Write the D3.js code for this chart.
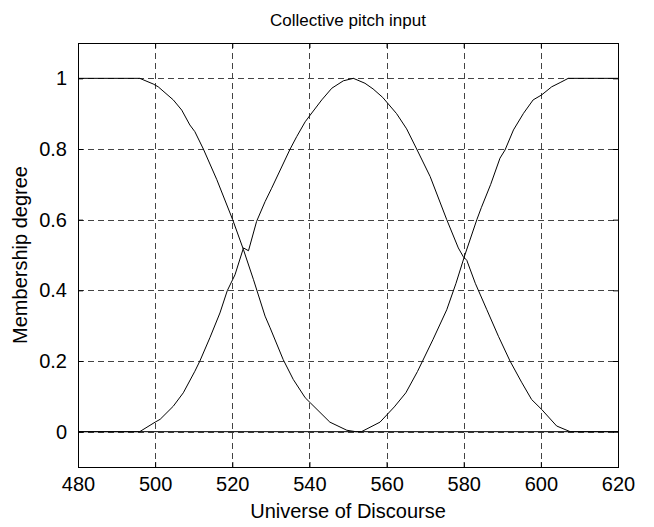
<!DOCTYPE html>
<html>
<head>
<meta charset="utf-8">
<script src="https://cdn.jsdelivr.net/npm/d3@7"></script>
<style>
	body { margin: 0; background: #fff; }
	svg { display: block; font-family: Arial, "Liberation Sans", sans-serif; }
	.grid line { stroke: #444; stroke-dasharray: 6,4; }
</style>
</head>
<body>
<div id="chart"></div>
<script>
// membership curves, [x, degree]
var lowCurve = [[480, 1], [496, 1], [499.5, 0.984], [500.8, 0.976], [504.7, 0.939], [506.9, 0.91],
	[509, 0.868], [510.3, 0.849], [512.5, 0.8], [516, 0.713], [520.1, 0.6], [522.9, 0.515],
	[525.5, 0.43], [528.5, 0.327], [529.8, 0.294], [533.2, 0.204], [535.8, 0.148], [538.9, 0.096],
	[540.2, 0.082], [545.3, 0.027], [549.7, 0.004], [552, 0], [620, 0]];
var midCurve = [[480, 0], [496, 0], [500, 0.027], [501.3, 0.035], [504.7, 0.072], [507.3, 0.11],
	[510.3, 0.171], [511.6, 0.2], [514.2, 0.266], [516.8, 0.336], [518.7, 0.399], [520.7, 0.444],
	[522.9, 0.52], [524.2, 0.512], [526.3, 0.595], [528.5, 0.651], [530.2, 0.689], [535, 0.8],
	[536.7, 0.835], [538.9, 0.877], [540.2, 0.896], [543.2, 0.939], [545.8, 0.972], [548.8, 0.993],
	[551.4, 1], [554.4, 0.986], [556.5, 0.97], [559, 0.946], [562.6, 0.9], [565.2, 0.857],
	[567.8, 0.8], [571.3, 0.722], [575.6, 0.6], [578.6, 0.52], [579.9, 0.495], [580.8, 0.485],
	[583, 0.42], [586, 0.345], [589, 0.27], [592, 0.2], [595, 0.14], [597.6, 0.091],
	[600.2, 0.063], [604.1, 0.016], [607.6, 0], [620, 0]];
var highCurve = [[480, 0], [553.5, 0], [558.3, 0.027], [562, 0.07], [565, 0.11], [568, 0.17],
	[572, 0.26], [575.6, 0.345], [578, 0.42], [580.3, 0.5], [583.4, 0.6], [584.6, 0.635],
	[587, 0.7], [589.4, 0.774], [590.7, 0.797], [592.9, 0.854], [595.5, 0.901], [598, 0.939],
	[600.2, 0.953], [602.8, 0.976], [605, 0.988], [607.1, 1], [620, 1]];

var xTicks = [480, 500, 520, 540, 560, 580, 600, 620];
var yTicks = [0, 0.2, 0.4, 0.6, 0.8, 1];
var xDomain = [480, 620], yDomain = [-0.1, 1.1];
var titleText = 'Collective pitch input';
var xLabel = 'Universe of Discourse';
var yLabel = 'Membership degree';

var width = 654, height = 527;
var margin = { top: 43, right: 36, bottom: 60, left: 78 };
var w = width - margin.left - margin.right,
	h = height - margin.top - margin.bottom;

var svg = d3.select('#chart').append('svg')
	.attr('width', width)
	.attr('height', height);

var x = d3.scaleLinear().domain(xDomain).range([0, w]);
var y = d3.scaleLinear().domain(yDomain).range([h, 0]);

var g = svg.append('g')
	.attr('transform', 'translate(' + margin.left + ',' + margin.top + ')');

// grid
var grid = g.append('g').attr('class', 'grid');
grid.selectAll('.vx')
	.data(xTicks.slice(1, -1))
	.enter().append('line')
	.attr('x1', function(d) { return Math.round(x(d)) + 0.5; })
	.attr('x2', function(d) { return Math.round(x(d)) + 0.5; })
	.attr('y1', 0).attr('y2', h);
grid.selectAll('.hy')
	.data(yTicks)
	.enter().append('line')
	.attr('y1', function(d) { return Math.round(y(d)) + 0.5; })
	.attr('y2', function(d) { return Math.round(y(d)) + 0.5; })
	.attr('x1', 0).attr('x2', w);

// curves
var line = d3.line()
	.x(function(d) { return x(d[0]); })
	.y(function(d) { return y(d[1]); });
[lowCurve, midCurve, highCurve].forEach(function(c) {
	g.append('path')
		.datum(c)
		.attr('d', line)
		.attr('fill', 'none')
		.attr('stroke', '#000')
		.attr('stroke-width', 1);
});

// axes, matlab style ticks inside on all four sides
var fontSize = 20;
function styleAxis(sel) {
	sel.select('.domain').remove();
	sel.selectAll('line').attr('stroke', '#000');
	sel.selectAll('text').attr('font-size', fontSize).attr('fill', '#000')
		.attr('font-family', 'Arial, "Liberation Sans", sans-serif');
}
var fmt = function(d) { return d3.format('~g')(d); };
g.append('g')
	.attr('transform', 'translate(0,' + h + ')')
	.call(d3.axisBottom(x).tickValues(xTicks).tickFormat(fmt).tickSizeInner(-5).tickSizeOuter(0).tickPadding(10))
	.call(styleAxis);
g.append('g')
	.call(d3.axisTop(x).tickValues(xTicks).tickFormat('').tickSizeInner(-5).tickSizeOuter(0))
	.call(styleAxis);
g.append('g')
	.call(d3.axisLeft(y).tickValues(yTicks).tickFormat(fmt).tickSizeInner(-5).tickSizeOuter(0).tickPadding(11))
	.call(styleAxis);
g.append('g')
	.attr('transform', 'translate(' + w + ',0)')
	.call(d3.axisRight(y).tickValues(yTicks).tickFormat('').tickSizeInner(-5).tickSizeOuter(0))
	.call(styleAxis);

g.append('rect')
	.attr('x', 0.5).attr('y', 0.5)
	.attr('width', w).attr('height', h)
	.attr('fill', 'none')
	.attr('stroke', '#000');

// labels
svg.append('text')
	.attr('x', margin.left + w / 2)
	.attr('y', 26)
	.attr('text-anchor', 'middle')
	.attr('font-size', 17)
	.text(titleText);
svg.append('text')
	.attr('x', margin.left + w / 2)
	.attr('y', 518)
	.attr('text-anchor', 'middle')
	.attr('font-size', 20)
	.text(xLabel);
svg.append('text')
	.attr('transform', 'translate(27,' + (margin.top + h / 2) + ') rotate(-90)')
	.attr('text-anchor', 'middle')
	.attr('font-size', 20)
	.text(yLabel);
</script>
</body>
</html>
